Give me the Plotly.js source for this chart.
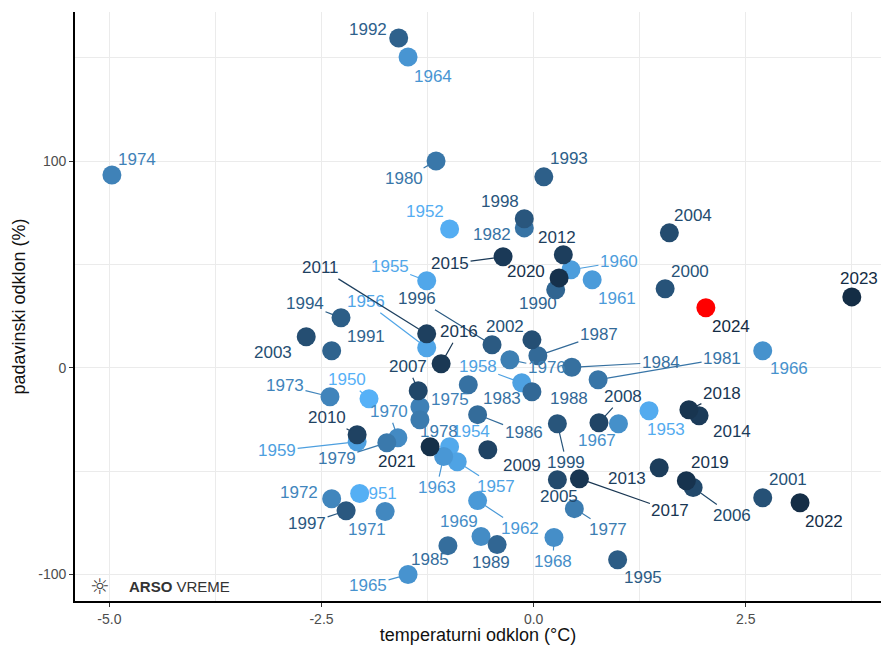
<!DOCTYPE html>
<html>
<head>
<meta charset="utf-8">
<script src="https://cdn.plot.ly/plotly-3.0.1.min.js"></script>
<style>html,body{margin:0;padding:0;background:#fff;}#chart{width:881px;height:645px;}</style>
</head>
<body>
<div id="chart"></div>
<script>
// ---- data ----
const years = [1950,1951,1952,1953,1954,1955,1956,1957,1958,1959,
  1960,1961,1962,1963,1964,1965,1966,1967,1968,1969,
  1970,1971,1972,1973,1974,1975,1976,1977,1978,1979,
  1980,1981,1982,1983,1984,1985,1986,1987,1988,1989,
  1990,1991,1992,1993,1994,1995,1996,1997,1998,1999,
  2000,2001,2002,2003,2004,2005,2006,2007,2008,2009,
  2010,2011,2012,2013,2014,2015,2016,2017,2018,2019,
  2020,2021,2022,2023,2024];
// temperature anomaly (°C)
const tempAnomaly = [-1.94,-2.05,-0.99,1.36,-0.99,-1.26,-1.26,-0.90,-0.14,-2.08,
  0.44,0.69,-0.66,-1.06,-1.48,-1.48,2.70,1.00,0.24,-0.62,
  -1.60,-1.75,-2.38,-2.40,-4.97,-1.34,-0.28,0.48,-1.34,-1.73,
  -1.15,0.76,-0.11,-0.77,0.45,-1.01,-0.66,0.05,-0.02,-0.43,
  0.26,-2.38,-1.59,0.12,-2.27,0.99,-0.49,-2.21,-0.11,0.28,
  1.55,2.70,-0.02,-2.68,1.60,0.28,1.88,-1.36,0.77,-0.54,
  -2.08,-1.26,0.35,1.48,1.95,-0.36,-1.09,0.54,1.83,1.80,
  0.30,-1.22,3.14,3.75,2.03];
// precipitation anomaly (%)
const precipAnomaly = [-15.0,-60.9,67.2,-20.8,-38.2,42.1,9.7,-45.5,-7.3,-35.8,
  47.4,42.6,-64.3,-43.0,150.4,-100.1,8.2,-27.1,-82.2,-81.7,
  -33.9,-69.6,-63.4,-14.0,93.3,-18.9,3.9,-68.2,-25.2,-36.3,
  100.1,-5.8,67.7,-8.2,0.2,-86.1,-22.7,5.8,-11.6,-85.6,
  37.7,8.2,159.6,92.4,24.2,-92.9,11.1,-69.2,72.1,-27.1,
  38.2,-62.9,13.5,15.0,65.3,-54.2,-58.0,-11.1,-26.6,-39.7,
  -32.4,16.4,54.7,-48.4,-23.2,53.7,1.9,-53.7,-20.3,-54.7,
  43.5,-38.2,-65.3,34.3,29.0];
const highlightYear = 2024;
const xTickVals = [-5,-2.5,0,2.5];
const xTickText = ['-5.0','-2.5','0.0','2.5'];
const yTickVals = [-100,0,100];
const yTickText = ['-100','0','100'];

// ---- label placement (pixel offsets of label centre from point; seg = leader line) ----
const labelPos = {
  1950:[-22,-19,1],1951:[18,0,0],1952:[-25,-17,0],1953:[17,19,0],1954:[21,-15,0],
  1955:[-37,-14,1],1956:[-61,-46,1],1957:[39,25,1],1958:[-44,-16,1],1959:[-80,9,1],
  1960:[48,-8,1],1961:[25,19,0],1962:[42,28,1],1963:[-7,31,1],1964:[25,19,0],
  1965:[-40,11,1],1966:[26,18,0],1967:[-21,17,0],1968:[-1,24,1],1969:[-22,-15,0],
  1970:[-9,-26,1],1971:[-18,18,0],1972:[-33,-6,0],1973:[-45,-11,1],1974:[25,-16,0],
  1975:[30,-7,0],1976:[37,8,1],1977:[34,21,1],1978:[19,12,0],1979:[-50,16,1],
  1980:[-32,18,1],1981:[124,-21,1],1982:[-32,7,0],1983:[34,14,0],1984:[89,-5,1],
  1985:[-18,14,0],1986:[46,18,1],1987:[61,-21,1],1988:[37,7,0],1989:[-6,18,0],
  1990:[-18,14,0],1991:[34,-14,0],1992:[-31,-9,0],1993:[25,-18,0],1994:[-36,-14,1],
  1995:[25,18,0],1996:[-75,-46,1],1997:[-39,13,1],1998:[-24,-17,0],1999:[9,39,1],
  2000:[25,-17,0],2001:[25,-18,0],2002:[-27,-13,0],2003:[-33,16,0],2004:[24,-17,0],
  2005:[2,17,0],2006:[39,28,1],2007:[-10,-24,1],2008:[24,-26,1],2009:[34,16,0],
  2010:[-30,-17,1],2011:[-106,-66,1],2012:[-6,-17,0],2013:[-32,11,0],2014:[33,16,0],
  2015:[-53,7,1],2016:[18,-32,1],2017:[91,32,1],2018:[33,-16,1],2019:[24,-18,0],
  2020:[-33,-6,0],2021:[-33,15,0],2022:[24,19,0],2023:[7,-18,0],2024:[25,19,0]
};

// ---- colour scale (CIELAB interpolation, ggplot-like) ----
const colLight = '#56B1F7', colDark = '#132B43', colHighlight = '#FF0000';
function hex2rgb(h){return [1,3,5].map(i=>parseInt(h.slice(i,i+2),16));}
function toLin(c){c/=255;return c<=0.04045?c/12.92:Math.pow((c+0.055)/1.055,2.4);}
function fromLin(c){const v=c<=0.0031308?12.92*c:1.055*Math.pow(c,1/2.4)-0.055;return Math.round(Math.max(0,Math.min(1,v))*255);}
function rgb2lab(rgb){
  const [r,g,b]=rgb.map(toLin);
  const X=(0.4124*r+0.3576*g+0.1805*b)/0.95047,Y=(0.2126*r+0.7152*g+0.0722*b),Z=(0.0193*r+0.1192*g+0.9505*b)/1.08883;
  const f=t=>t>0.008856?Math.cbrt(t):7.787*t+16/116;
  const fx=f(X),fy=f(Y),fz=f(Z);
  return [116*fy-16,500*(fx-fy),200*(fy-fz)];
}
function lab2rgb(lab){
  const fy=(lab[0]+16)/116,fx=fy+lab[1]/500,fz=fy-lab[2]/200;
  const fi=t=>t>0.206893?t*t*t:(t-16/116)/7.787;
  const X=fi(fx)*0.95047,Y=fi(fy),Z=fi(fz)*1.08883;
  const r=3.2406*X-1.5372*Y-0.4986*Z,g=-0.9689*X+1.8758*Y+0.0415*Z,b=0.0557*X-0.2040*Y+1.0570*Z;
  return 'rgb('+[r,g,b].map(fromLin).join(',')+')';
}
const labL=rgb2lab(hex2rgb(colLight)),labD=rgb2lab(hex2rgb(colDark));
const yMin=Math.min(...years),yMax=Math.max(...years);
function yearColour(y){const t=(y-yMin)/(yMax-yMin);return lab2rgb(labL.map((v,i)=>v+(labD[i]-v)*t));}

const textCols = years.map(yearColour);
const markerCols = years.map((y,i)=>y===highlightYear?colHighlight:textCols[i]);

const labelFont = 'Liberation Sans, Arial, sans-serif';
const annotations = years.map((y,i)=>{
  const p=labelPos[y]||[20,-15,0];
  return {
    x:tempAnomaly[i],y:precipAnomaly[i],xref:'x',yref:'y',
    text:String(y),showarrow:true,ax:p[0],ay:p[1],
    arrowhead:0,arrowwidth:p[2]?1.2:0.1,standoff:p[2]?8:0,
    arrowcolor:p[2]?textCols[i]:'rgba(0,0,0,0)',
    font:{family:labelFont,size:17,color:textCols[i]}
  };
});
annotations.push({xref:'paper',yref:'paper',x:0.031,y:0.024,xanchor:'center',yanchor:'middle',
  text:'☼',showarrow:false,font:{family:'DejaVu Sans',size:22,color:'#444'}});
annotations.push({xref:'paper',yref:'paper',x:0.064,y:0.024,xanchor:'left',yanchor:'middle',
  text:'<b>ARSO</b> VREME',showarrow:false,font:{family:'Liberation Sans, Arial',size:15,color:'#333'}});

const trace={
  x:tempAnomaly,y:precipAnomaly,mode:'markers',type:'scatter',
  marker:{size:19,color:markerCols,line:{width:0}},
  hoverinfo:'skip',cliponaxis:false
};

const grid='#EBEBEB';
const layout={
  width:881,height:645,
  margin:{l:75,r:0,t:12,b:44},
  paper_bgcolor:'#fff',plot_bgcolor:'#fff',
  showlegend:false,
  font:{family:labelFont},
  xaxis:{
    range:[-5.405,4.094],tickvals:xTickVals,ticktext:xTickText,
    showgrid:true,gridcolor:grid,gridwidth:1,zeroline:false,
    minor:{dtick:1.25,tick0:0,showgrid:true,gridcolor:grid,gridwidth:1,ticks:''},
    showline:true,linecolor:'#000',linewidth:1.8,
    ticks:'outside',ticklen:4,tickcolor:'#333',tickwidth:1,
    tickfont:{size:14,color:'#4D4D4D',family:labelFont},
    title:{text:'temperaturni odklon (°C)',font:{size:18,color:'#111',family:labelFont},standoff:6}
  },
  yaxis:{
    range:[-112.9,172.2],tickvals:yTickVals,ticktext:yTickText,
    showgrid:true,gridcolor:grid,gridwidth:1,zeroline:false,
    minor:{dtick:50,tick0:0,showgrid:true,gridcolor:grid,gridwidth:1,ticks:''},
    showline:true,linecolor:'#000',linewidth:1.8,
    ticks:'outside',ticklen:4,tickcolor:'#333',tickwidth:1,
    tickfont:{size:14,color:'#4D4D4D',family:labelFont},
    title:{text:'padavinski odklon (%)',font:{size:18,color:'#111',family:labelFont},standoff:8}
  },
  annotations:annotations
};
Plotly.newPlot('chart',[trace],layout,{displayModeBar:false,staticPlot:true});
</script>
</body>
</html>
